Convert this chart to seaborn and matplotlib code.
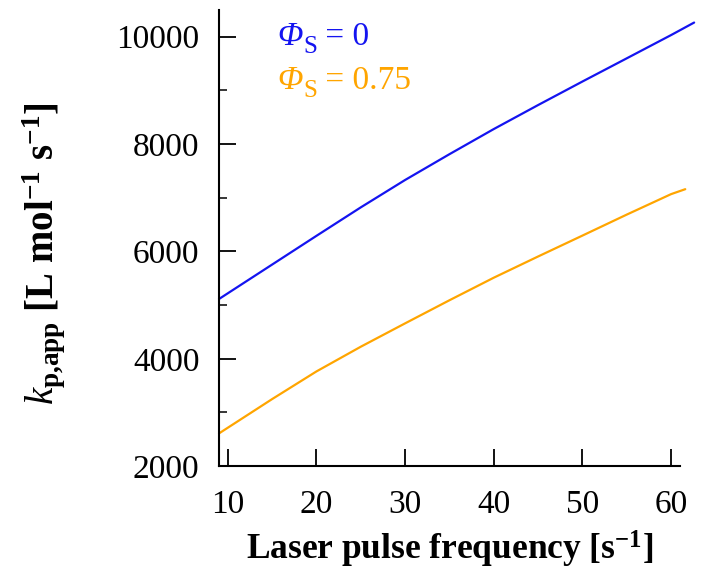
import matplotlib
matplotlib.use("Agg")
import matplotlib.pyplot as plt
import matplotlib.transforms as mtransforms
import seaborn as sns
import pandas as pd
from matplotlib.ticker import MultipleLocator

# Data
freq_phi0 = [9, 15, 20, 25, 30, 35, 40, 45, 50, 55, 60, 62.6]
kp_phi0 = [5113, 5755, 6290, 6820, 7330, 7810, 8278, 8725, 9163, 9595, 10028, 10261]
freq_phi075 = [9, 15, 20, 25, 30, 35, 40, 45, 50, 55, 60, 61.6]
kp_phi075 = [2610, 3250, 3765, 4225, 4660, 5090, 5510, 5905, 6294, 6685, 7066, 7158]
series_symbol = "Φ"
series_sub = "S"
series_values = ["0", "0.75"]
series_names = [f"{series_symbol}{series_sub} = {v}" for v in series_values]
series_colors = ["#1414F0", "#FFA500"]
x_ticks = [10, 20, 30, 40, 50, 60]
y_ticks = [2000, 4000, 6000, 8000, 10000]

df = pd.concat([
    pd.DataFrame({"freq": freq_phi0, "kp": kp_phi0, "series": series_names[0]}),
    pd.DataFrame({"freq": freq_phi075, "kp": kp_phi075, "series": series_names[1]}),
], ignore_index=True)

sns.set_theme(style="ticks")
plt.rcParams["font.family"] = ["Liberation Serif", "DejaVu Serif"]
plt.rcParams["mathtext.fontset"] = "custom"
plt.rcParams["mathtext.rm"] = "Liberation Serif"
plt.rcParams["mathtext.it"] = "Liberation Serif:italic"
plt.rcParams["mathtext.bf"] = "Liberation Serif:bold"
plt.rcParams["text.color"] = "black"
plt.rcParams["axes.labelcolor"] = "black"

fig = plt.figure(figsize=(7.18, 5.72), dpi=100)
ax = fig.add_axes([0.305, 0.185, 0.642, 0.798])

sns.lineplot(data=df, x="freq", y="kp", hue="series", palette=series_colors,
             linewidth=1.6, ax=ax, legend=False, sort=True, estimator=None)
for ln in ax.lines:
    ln.set_clip_on(False)

ax.set_xlim(9, 61)
ax.set_ylim(2000, 10500)
ax.set_xticks(x_ticks)
ax.set_yticks(y_ticks)
ax.yaxis.set_minor_locator(MultipleLocator(1000))

for s in ["top", "right"]:
    ax.spines[s].set_visible(False)
for s in ["left", "bottom"]:
    ax.spines[s].set_linewidth(1.5)
    ax.spines[s].set_color("black")

ax.tick_params(axis="both", which="major", direction="in", length=12, width=1.3,
               labelsize=24, colors="black")
ax.tick_params(axis="x", which="major", pad=17)
ax.tick_params(axis="y", which="major", pad=14)
ax.tick_params(axis="y", which="minor", direction="in", length=6, width=1.3)

ax.set_xlabel("Laser pulse frequency [s$^{\\mathbf{-1}}$]", fontsize=25.5,
              fontweight="bold", labelpad=6)
ax.set_ylabel("$k_{\\mathbf{p{,}app}}$ [L mol$^{\\mathbf{-1}}$ s$^{\\mathbf{-1}}$]",
              fontsize=28, fontweight="bold")
ax.yaxis.set_label_coords(-0.33, 0.465)

# legend-like labels: italic Φ, subscript S, then value
fig.canvas.draw()
renderer = fig.canvas.get_renderer()
for yb, val, col in zip([0.923, 0.827], series_values, series_colors):
    t1 = ax.text(0.126, yb, series_symbol, transform=ax.transAxes, color=col,
                 fontsize=24, va="baseline", ha="left", style="italic")
    bb = t1.get_window_extent(renderer)
    x1 = ax.transAxes.inverted().transform((bb.x1, 0))[0]
    tr_sub = mtransforms.offset_copy(ax.transAxes, fig=fig, x=0.5, y=-6, units="points")
    t2 = ax.text(x1, yb, series_sub, transform=tr_sub, color=col,
                 fontsize=18, va="baseline", ha="left")
    bb2 = t2.get_window_extent(renderer)
    x2 = ax.transAxes.inverted().transform((bb2.x1, 0))[0]
    ax.text(x2, yb, f" = {val}", transform=ax.transAxes, color=col,
            fontsize=24, va="baseline", ha="left")

fig.savefig("out.png", dpi=100)
